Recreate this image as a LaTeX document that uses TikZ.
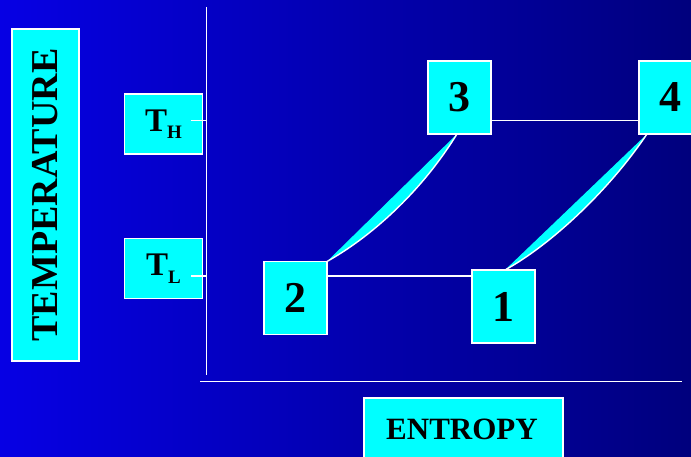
\documentclass[tikz,border=0pt]{standalone}
\usepackage{fontspec}
\setmainfont{Liberation Serif}
\definecolor{bgleft}{RGB}{6,0,228}
\definecolor{bgright}{RGB}{0,0,125}
\definecolor{boxcyan}{RGB}{0,255,255}
\newcommand{\subsc}[1]{\raisebox{-7.5pt}{\fontsize{19}{19}\selectfont #1}}
\tikzset{
  cbox/.style={draw=white, line width=1.6pt, fill=boxcyan, inner sep=0pt, text=black, font=\bfseries},
  numbox/.style={cbox, minimum width=63pt, minimum height=73pt, font=\fontsize{44}{44}\selectfont\bfseries},
  tbox/.style={cbox, minimum width=78pt, minimum height=60pt, font=\fontsize{33}{33}\selectfont\bfseries},
  wline/.style={draw=white, line width=1.4pt},
  lens/.style={fill=boxcyan},
}
\begin{document}
\begin{tikzpicture}[x=1pt,y=-1pt]
\shade[left color=bgleft, right color=bgright] (0,0) rectangle (691,457);
\useasboundingbox (0,0) rectangle (691,457);
% axes
\coordinate (ytop) at (206.7,7);
\coordinate (ybot) at (206.7,375);
\coordinate (xl) at (200,381.7);
\coordinate (xr) at (682,381.7);
\draw[wline] (ytop) -- (ybot);
\draw[wline] (xl) -- (xr);
% axis label boxes
\node[cbox, minimum width=67pt, minimum height=332pt] (temp) at (45.5,195) {};
\node[rotate=90, font=\fontsize{38}{38}\selectfont\bfseries] (templabel) at (temp.center) {TEMPERATURE};
\node[cbox, minimum width=199pt, minimum height=70pt, anchor=north west] (entropy) at (363,397) {};
\node[font=\fontsize{31}{31}\selectfont\bfseries] (entlabel) at (462,429) {ENTROPY};
% temperature levels
\node[tbox] (TH) at (163.5,124) {T\subsc{H}};
\node[tbox] (TL) at (163.5,268.5) {T\subsc{L}};
\coordinate (thtick) at (206.7,120.5);
\coordinate (tltick) at (206.7,276);
\draw[wline] (191,120.5) -- (thtick);
\draw[wline] (191,276) -- (tltick);
% state points
\node[numbox] (n3) at (459.5,97.5) {3};
\node[numbox] (n4) at (670.5,97.5) {4};
\node[numbox] (n2) at (295.5,298) {2};
\node[numbox] (n1) at (503.5,306.5) {1};
% horizontal processes
\draw[wline] (n3.east |- 0,120.7) -- (n4.west |- 0,120.7);
\draw[wline] (n2.east |- 0,276) -- (n1.west |- 0,276);
% curved processes (cyan lens with white curved edge)
\coordinate (a2) at (327,261.5);
\coordinate (a3) at (457,134);
\coordinate (a1) at (505,270);
\coordinate (a4) at (647,134);
\fill[lens] (a2) .. controls (369,238) and (420,194) .. (a3) -- cycle;
\draw[wline] (a2) .. controls (369,238) and (420,194) .. (a3);
\fill[lens] (a1) .. controls (549,246) and (608,192) .. (a4) -- cycle;
\draw[wline] (a1) .. controls (549,246) and (608,192) .. (a4);
\end{tikzpicture}
\end{document}
